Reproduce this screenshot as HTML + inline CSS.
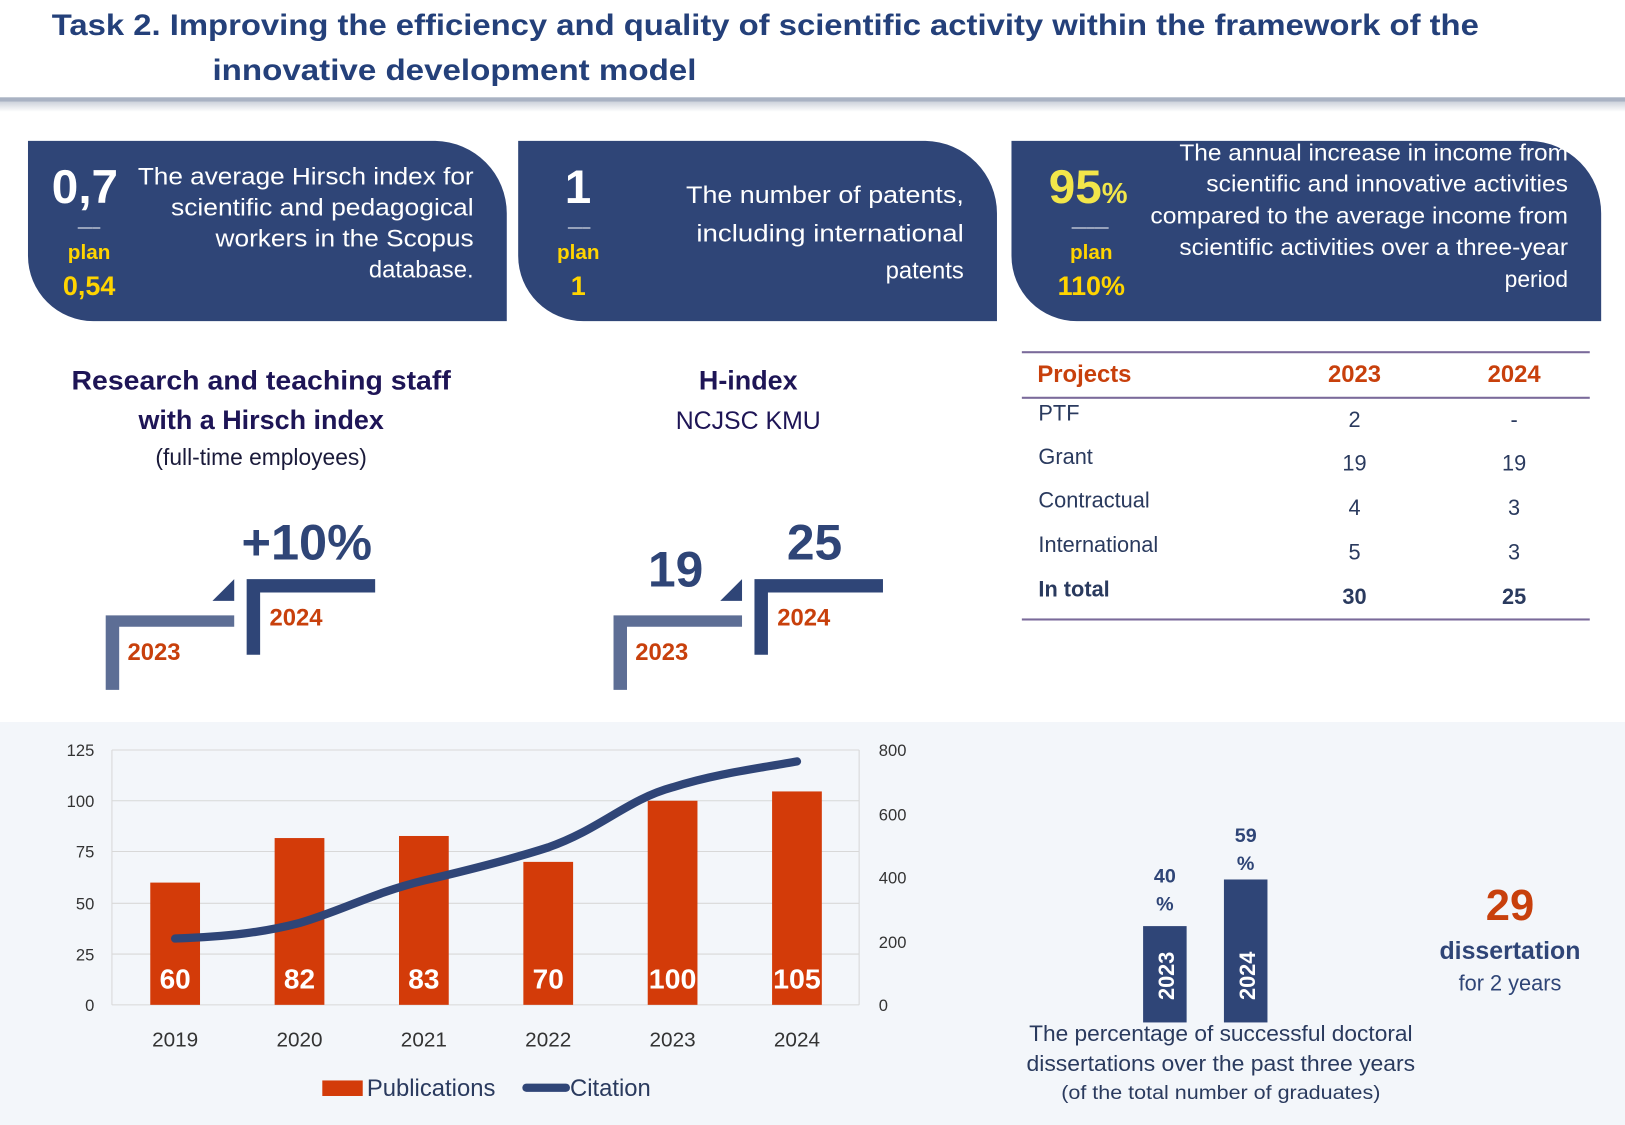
<!DOCTYPE html>
<html><head><meta charset="utf-8"><style>
html,body{margin:0;padding:0;background:#fff;}
svg{display:block;}
text{font-family:"Liberation Sans",sans-serif;}
</style></head><body>
<svg width="1625" height="1125" viewBox="0 0 1568 1086" preserveAspectRatio="none" xmlns="http://www.w3.org/2000/svg">
<defs>
<linearGradient id="sep" x1="0" y1="0" x2="0" y2="1">
<stop offset="0" stop-color="#b8bfcc"/><stop offset="1" stop-color="#ffffff"/>
</linearGradient>
</defs>
<rect width="1568" height="1086" fill="#fff"/>
<!-- title -->
<text x="50" y="34" font-size="29" font-weight="bold" fill="#24407a" textLength="1377" lengthAdjust="spacingAndGlyphs">Task 2. Improving the efficiency and quality of scientific activity within the framework of the</text>
<text x="205" y="77" font-size="29" font-weight="bold" fill="#24407a" textLength="467" lengthAdjust="spacingAndGlyphs">innovative development model</text>
<rect x="0" y="94" width="1568" height="14" fill="url(#sep)"/>
<rect x="0" y="94" width="1568" height="4" fill="#a9b2c3"/>

<!-- cards -->
<g fill="#2f4577">
<path d="M27,136 H420 A70,70 0 0 1 489,206 V310 H90 A63,63 0 0 1 27,247 Z"/>
<path d="M500,136 H893 A70,70 0 0 1 962,206 V310 H563 A63,63 0 0 1 500,247 Z"/>
<path d="M976,136 H1476 A70,70 0 0 1 1545,206 V310 H1039 A63,63 0 0 1 976,247 Z"/>
</g>
<g fill="#fff">
<text x="50" y="196" font-size="46" font-weight="bold">0,7</text>
<text x="75" y="224" font-size="14">—–</text>
<text x="457" y="178" font-size="23" text-anchor="end" textLength="324" lengthAdjust="spacingAndGlyphs">The average Hirsch index for</text>
<text x="457" y="208" font-size="23" text-anchor="end" textLength="292" lengthAdjust="spacingAndGlyphs">scientific and pedagogical</text>
<text x="457" y="238" font-size="23" text-anchor="end" textLength="249" lengthAdjust="spacingAndGlyphs">workers in the Scopus</text>
<text x="457" y="268" font-size="23" text-anchor="end">database.</text>

<text x="545" y="196" font-size="46" font-weight="bold">1</text>
<text x="548" y="224" font-size="14">—–</text>
<text x="930" y="196" font-size="23" text-anchor="end" textLength="268" lengthAdjust="spacingAndGlyphs">The number of patents,</text>
<text x="930" y="233" font-size="23" text-anchor="end" textLength="258" lengthAdjust="spacingAndGlyphs">including international</text>
<text x="930" y="269" font-size="23" text-anchor="end">patents</text>

<text x="1034" y="224" font-size="14">—–—</text>
<text x="1513" y="155" font-size="22" text-anchor="end" textLength="375" lengthAdjust="spacingAndGlyphs">The annual increase in income from</text>
<text x="1513" y="185" font-size="22" text-anchor="end" textLength="349" lengthAdjust="spacingAndGlyphs">scientific and innovative activities</text>
<text x="1513" y="216" font-size="22" text-anchor="end" textLength="403" lengthAdjust="spacingAndGlyphs">compared to the average income from</text>
<text x="1513" y="246" font-size="22" text-anchor="end" textLength="375" lengthAdjust="spacingAndGlyphs">scientific activities over a three-year</text>
<text x="1513" y="277" font-size="22" text-anchor="end">period</text>
</g>
<g fill="#ffd400" font-weight="bold">
<text x="86" y="250" font-size="20" text-anchor="middle">plan</text>
<text x="86" y="285" font-size="26" text-anchor="middle">0,54</text>
<text x="558" y="250" font-size="20" text-anchor="middle">plan</text>
<text x="558" y="285" font-size="26" text-anchor="middle">1</text>
<text x="1012" y="196" font-size="46" fill="#f2e64a">95<tspan font-size="28">%</tspan></text>
<text x="1053" y="250" font-size="20" text-anchor="middle">plan</text>
<text x="1053" y="285" font-size="26" text-anchor="middle">110%</text>
</g>

<!-- middle texts -->
<g text-anchor="middle">
<text x="252" y="376" font-size="26" font-weight="bold" fill="#1e1556" textLength="366" lengthAdjust="spacingAndGlyphs">Research and teaching staff</text>
<text x="252" y="414" font-size="26" font-weight="bold" fill="#1e1556">with a Hirsch index</text>
<text x="252" y="449" font-size="22" fill="#1a1a3a">(full-time employees)</text>
<text x="722" y="376" font-size="26" font-weight="bold" fill="#1e1556">H-index</text>
<text x="722" y="414" font-size="24" fill="#1e1556">NCJSC KMU</text>
</g>

<!-- steps -->
<g>
<text x="296" y="540" font-size="48" font-weight="bold" fill="#2f4577" text-anchor="middle" textLength="126" lengthAdjust="spacingAndGlyphs">+10%</text>
<path d="M102,594 H226 V605 H115 V666 H102 Z" fill="#5d6e95"/>
<path d="M238,559 H362 V572 H251 V632 H238 Z" fill="#2f4577"/>
<path d="M226,559 V580 H205 Z" fill="#2f4577"/>
<text x="123" y="637" font-size="23" font-weight="bold" fill="#c8400c">2023</text>
<text x="260" y="604" font-size="23" font-weight="bold" fill="#c8400c">2024</text>

<text x="652" y="566" font-size="48" font-weight="bold" fill="#2f4577" text-anchor="middle">19</text>
<text x="786" y="540" font-size="48" font-weight="bold" fill="#2f4577" text-anchor="middle">25</text>
<path d="M592,594 H716 V605 H605 V666 H592 Z" fill="#5d6e95"/>
<path d="M728,559 H852 V572 H741 V632 H728 Z" fill="#2f4577"/>
<path d="M716,559 V580 H695 Z" fill="#2f4577"/>
<text x="613" y="637" font-size="23" font-weight="bold" fill="#c8400c">2023</text>
<text x="750" y="604" font-size="23" font-weight="bold" fill="#c8400c">2024</text>
</g>

<!-- table -->
<g>
<rect x="986" y="339" width="548" height="2" fill="#7a6a9a"/>
<rect x="986" y="383" width="548" height="2" fill="#7a6a9a"/>
<rect x="986" y="597" width="548" height="2" fill="#7a6a9a"/>
<g font-size="23" font-weight="bold" fill="#c8400c">
<text x="1001" y="369">Projects</text>
<text x="1307" y="369" text-anchor="middle">2023</text>
<text x="1461" y="369" text-anchor="middle">2024</text>
</g>
<g font-size="21" fill="#2a3a5e">
<text x="1002" y="406">PTF</text><text x="1307" y="412" text-anchor="middle">2</text><text x="1461" y="412" text-anchor="middle">-</text>
<text x="1002" y="448">Grant</text><text x="1307" y="454" text-anchor="middle">19</text><text x="1461" y="454" text-anchor="middle">19</text>
<text x="1002" y="490">Contractual</text><text x="1307" y="497" text-anchor="middle">4</text><text x="1461" y="497" text-anchor="middle">3</text>
<text x="1002" y="533">International</text><text x="1307" y="540" text-anchor="middle">5</text><text x="1461" y="540" text-anchor="middle">3</text>
<g font-weight="bold"><text x="1002" y="576">In total</text><text x="1307" y="583" text-anchor="middle">30</text><text x="1461" y="583" text-anchor="middle">25</text></g>
</g>
</g>

<!-- bottom panel -->
<rect x="0" y="697" width="1568" height="389" fill="#f3f6fa"/>
<g stroke="#d8d8d8" stroke-width="1">
<line x1="108" y1="724" x2="829" y2="724"/>
<line x1="108" y1="773" x2="829" y2="773"/>
<line x1="108" y1="822" x2="829" y2="822"/>
<line x1="108" y1="872" x2="829" y2="872"/>
<line x1="108" y1="921" x2="829" y2="921"/>
<line x1="108" y1="724" x2="108" y2="970"/>
<line x1="829" y1="724" x2="829" y2="970"/>
<line x1="108" y1="970" x2="829" y2="970"/>
</g>
<g font-size="16" fill="#333" text-anchor="end">
<text x="91" y="730">125</text><text x="91" y="779">100</text><text x="91" y="828">75</text>
<text x="91" y="878">50</text><text x="91" y="927">25</text><text x="91" y="976">0</text>
</g>
<g font-size="16" fill="#333">
<text x="848" y="730">800</text><text x="848" y="792">600</text><text x="848" y="853">400</text>
<text x="848" y="915">200</text><text x="848" y="976">0</text>
</g>
<g fill="#d33b09">
<rect x="145" y="852" width="48" height="118"/>
<rect x="265" y="809" width="48" height="161"/>
<rect x="385" y="807" width="48" height="163"/>
<rect x="505" y="832" width="48" height="138"/>
<rect x="625" y="773" width="48" height="197"/>
<rect x="745" y="764" width="48" height="206"/>
</g>
<g font-size="27" font-weight="bold" fill="#fff" text-anchor="middle">
<text x="169" y="954">60</text><text x="289" y="954">82</text><text x="409" y="954">83</text>
<text x="529" y="954">70</text><text x="649" y="954" textLength="46" lengthAdjust="spacingAndGlyphs">100</text><text x="769" y="954" textLength="46" lengthAdjust="spacingAndGlyphs">105</text>
</g>
<path d="M169,906 C220,904 255,900 289,891 C330,879 360,862 409,850 C460,838 495,829 529,818 C580,800 605,772 649,760 C690,747 730,742 769,735" fill="none" stroke="#2f4577" stroke-width="8" stroke-linecap="round"/>
<g font-size="20" fill="#333" text-anchor="middle">
<text x="169" y="1010">2019</text><text x="289" y="1010">2020</text><text x="409" y="1010">2021</text>
<text x="529" y="1010">2022</text><text x="649" y="1010">2023</text><text x="769" y="1010">2024</text>
</g>
<rect x="311" y="1043" width="39" height="15" fill="#d33b09"/>
<text x="354" y="1058" font-size="23" fill="#2a3a5e">Publications</text>
<line x1="508" y1="1050" x2="546" y2="1050" stroke="#2f4577" stroke-width="8" stroke-linecap="round"/>
<text x="550" y="1058" font-size="23" fill="#2a3a5e">Citation</text>

<!-- right bars -->
<rect x="1103" y="894" width="42" height="93" fill="#2f4577"/>
<rect x="1181" y="849" width="42" height="138" fill="#2f4577"/>
<text transform="translate(1133,942) rotate(-90)" font-size="21" font-weight="bold" fill="#fff" text-anchor="middle">2023</text>
<text transform="translate(1211,942) rotate(-90)" font-size="21" font-weight="bold" fill="#fff" text-anchor="middle">2024</text>
<g font-size="19" font-weight="bold" fill="#2f4577" text-anchor="middle">
<text x="1124" y="852">40</text><text x="1124" y="879">%</text>
<text x="1202" y="813">59</text><text x="1202" y="840">%</text>
</g>
<g text-anchor="middle" fill="#2a3a5e">
<text x="1178" y="1005" font-size="21" textLength="370" lengthAdjust="spacingAndGlyphs">The percentage of successful doctoral</text>
<text x="1178" y="1034" font-size="21" textLength="375" lengthAdjust="spacingAndGlyphs">dissertations over the past three years</text>
<text x="1178" y="1061" font-size="19" textLength="308" lengthAdjust="spacingAndGlyphs">(of the total number of graduates)</text>
<text x="1457" y="888" font-size="42" font-weight="bold" fill="#c8400c">29</text>
<text x="1457" y="926" font-size="24" font-weight="bold" fill="#2f4577">dissertation</text>
<text x="1457" y="956" font-size="21" fill="#2f4577">for 2 years</text>
</g>
</svg>
</body></html>
